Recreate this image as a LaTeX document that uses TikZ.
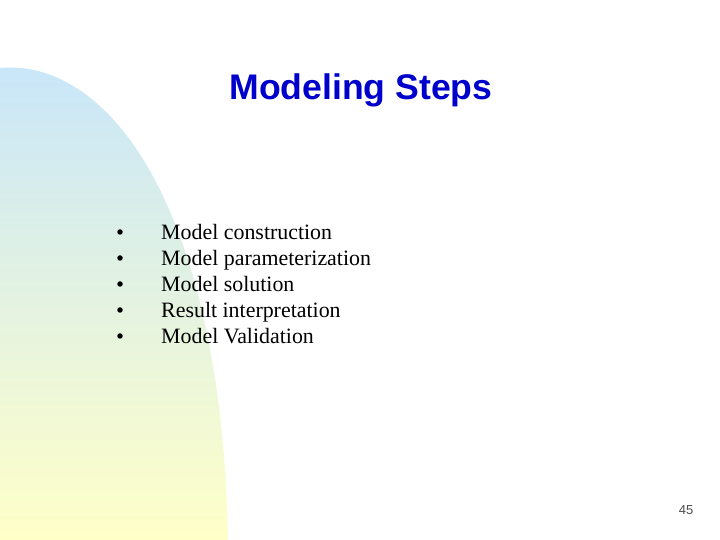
\documentclass[tikz,border=0pt]{standalone}
\usepackage{fontspec}
\setmainfont{Liberation Serif}
\newfontfamily\arialf{Liberation Sans}
\definecolor{titleblue}{RGB}{0,0,204}
\definecolor{topblue}{RGB}{200,230,250}
\definecolor{botyellow}{RGB}{255,255,200}
\begin{document}
\begin{tikzpicture}[x=1pt,y=1pt,
  item/.style={anchor=base west,inner sep=0pt,font=\fontsize{21.9}{24}\selectfont},
  bul/.style={circle,fill=black,inner sep=0pt,minimum size=5.5pt}]
\useasboundingbox (0,0) rectangle (720,540);
\fill[white] (0,0) rectangle (720,540);
\shade[top color=topblue,bottom color=botyellow]
  (0,472) .. controls (110,482) and (222,330) .. (228,0) -- (0,0) -- cycle;
\node[font=\arialf\bfseries\fontsize{35.6}{40}\selectfont,text=titleblue] (title) at (361,450) {Modeling Steps};
\foreach \t [count=\i] in {Model construction,Model parameterization,Model solution,Result interpretation,Model Validation}{
  \node[bul] (b\i) at (120,{308-26*(\i-1)}) {};
  \node[item] (t\i) at (161,{300-26*(\i-1)}) {\t};
}
\node[font=\arialf\fontsize{13}{15}\selectfont,text=black!70] (pg) at (686,30) {45};
\end{tikzpicture}
\end{document}
